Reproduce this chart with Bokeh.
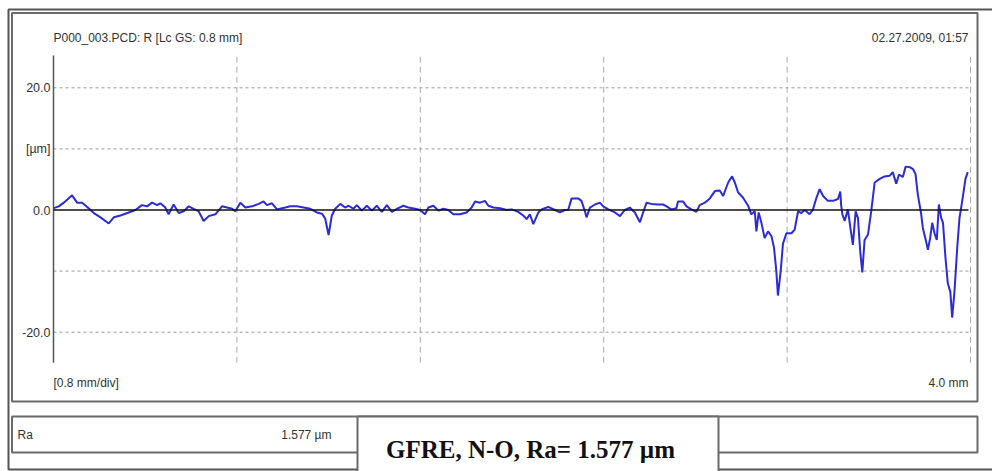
from bokeh.plotting import figure
from bokeh.models import Range1d, Label, ColumnDataSource
from bokeh.embed import file_html
from bokeh.resources import INLINE

# ---- data ----
x_mm = [0.001, 0.023, 0.045, 0.081, 0.103, 0.125, 0.147, 0.176, 0.205, 0.241, 0.263, 0.292,
        0.328, 0.357, 0.386, 0.408, 0.430, 0.452, 0.466, 0.488, 0.502, 0.524, 0.546, 0.568,
        0.590, 0.611, 0.633, 0.655, 0.677, 0.706, 0.735, 0.757, 0.779, 0.793, 0.815, 0.837,
        0.866, 0.895, 0.916, 0.931, 0.953, 0.975, 1.011, 1.033, 1.062, 1.091, 1.120, 1.149,
        1.171, 1.185, 1.200, 1.214, 1.229, 1.251, 1.272, 1.287, 1.308, 1.323, 1.345, 1.367,
        1.389, 1.410, 1.432, 1.454, 1.476, 1.498, 1.526, 1.548, 1.577, 1.599, 1.621, 1.635,
        1.657, 1.679, 1.701, 1.722, 1.744, 1.773, 1.802, 1.824, 1.839, 1.861, 1.882, 1.897,
        1.919, 1.948, 1.977, 1.999, 2.027, 2.049, 2.064, 2.078, 2.093, 2.115, 2.129, 2.158,
        2.187, 2.209, 2.231, 2.245, 2.260, 2.289, 2.303, 2.318, 2.325, 2.340, 2.362, 2.383,
        2.398, 2.420, 2.449, 2.471, 2.492, 2.514, 2.536, 2.558, 2.572, 2.587, 2.608, 2.637,
        2.659, 2.674, 2.695, 2.717, 2.724, 2.746, 2.761, 2.783, 2.804, 2.819, 2.841, 2.863,
        2.885, 2.906, 2.921, 2.943, 2.960, 2.972, 2.986, 3.008, 3.030, 3.044, 3.059, 3.066,
        3.076, 3.088, 3.102, 3.117, 3.132, 3.143, 3.153, 3.160, 3.172, 3.182, 3.197, 3.219,
        3.233, 3.248, 3.262, 3.277, 3.298, 3.313, 3.328, 3.342, 3.357, 3.378, 3.400, 3.422,
        3.432, 3.436, 3.441, 3.451, 3.465, 3.476, 3.487, 3.499, 3.509, 3.519, 3.528, 3.538,
        3.553, 3.567, 3.582, 3.604, 3.625, 3.647, 3.661, 3.676, 3.688, 3.705, 3.717, 3.735,
        3.749, 3.760, 3.770, 3.785, 3.792, 3.806, 3.814, 3.824, 3.833, 3.843, 3.853, 3.862,
        3.872, 3.880, 3.891, 3.901, 3.912, 3.920, 3.930, 3.942, 3.952, 3.964, 3.978, 3.988]
z_um = [0.3, 0.6, 1.2, 2.4, 1.2, 1.2, 0.5, -0.5, -1.2, -2.2, -1.2, -0.9,
        -0.4, 0.0, 0.8, 0.6, 1.2, 0.8, 1.1, 0.4, -0.7, 0.9, -0.5, -0.2,
        0.6, 0.2, -0.2, -1.8, -1.0, -0.7, 0.6, 0.4, 0.2, -0.2, 1.2, 0.4,
        0.6, 1.0, 1.4, 0.8, 1.1, 0.1, 0.4, 0.6, 0.6, 0.4, 0.2, -0.4,
        -0.6, -1.4, -4.1, -0.9, 0.2, 1.0, 0.4, 0.7, 0.2, 0.8, -0.1, 0.7,
        -0.1, 0.7, -0.3, 0.8, -0.3, 0.2, 0.7, 0.4, 0.2, 0.0, -0.7, 0.4,
        0.7, -0.1, 0.2, 0.0, -0.7, -0.7, -0.4, 0.4, 1.4, 1.2, 1.5, 0.7,
        0.4, 0.3, 0.0, 0.1, -0.3, -0.9, -1.5, -0.7, -2.3, -0.4, 0.1, 0.5,
        0.0, -0.4, 0.0, 0.0, 1.9, 1.9, 1.5, -0.2, -1.2, 0.4, 0.9, 1.2,
        0.6, 0.1, -0.4, -1.0, 0.0, 0.4, -0.4, -2.0, -0.4, 1.2, 1.0, 0.9,
        0.9, 0.6, 0.1, 0.3, 1.4, 1.4, 0.6, 0.1, -0.3, 0.8, 1.2, 1.9,
        3.1, 3.2, 2.3, 4.5, 5.5, 4.5, 2.9, 2.0, 0.7, -0.7, -0.2, -3.5,
        -0.4, -2.1, -4.6, -3.5, -4.3, -6.2, -10.0, -14.0, -10.0, -5.5, -3.8, -3.8,
        -3.2, -0.2, -0.5, 0.0, -0.7, 0.1, 2.0, 3.4, 2.3, 1.5, 1.5, 1.8,
        3.0, 0.7, -0.7, -1.8, 0.1, -2.9, -5.7, -0.2, -1.3, -6.8, -10.2, -4.9,
        -4.0, -0.2, 4.5, 5.1, 5.5, 5.6, 6.2, 4.3, 5.8, 5.4, 7.1, 7.0,
        6.7, 5.9, 2.6, -0.7, -2.9, -5.1, -6.5, -4.6, -2.1, -3.8, -4.9, 0.9,
        -1.3, -2.1, -7.9, -12.0, -13.4, -17.6, -13.4, -6.2, -1.3, 1.5, 5.1, 6.2]

y_ticks = [20, 10, 0, -20]
y_tick_labels = ["20.0", "[\u00b5m]", "0.0", "-20.0"]
x_grid = [0.8, 1.6, 2.4, 3.2, 4.0]
y_grid = [-20, -10, 10, 20]

title_left = "P000_003.PCD: R [Lc GS: 0.8 mm]"
title_right = "02.27.2009, 01:57"
x_scale_text = "[0.8 mm/div]"
x_end_text = "4.0 mm"
param_name = "Ra"
param_value = "1.577 \u00b5m"
caption = "GFRE, N-O, Ra= 1.577 \u00b5m"

# ---- plot region (data extent of the profile window) ----
X_LO, X_HI = 0.0, 4.0
Y_LO, Y_HI = -25.0, 25.3

# ---- canvas mapping: the whole page is the frame ----
W, H = 992, 471
PX0, PX_PER_MM = 53.0, 229.25      # pixel of x=0, pixels per mm
PY0, PY_PER_UM = 209.5, 6.11       # pixel of z=0, pixels per um

def dx(px):
    return (px - PX0) / PX_PER_MM

def dy(py):
    return (PY0 - py) / PY_PER_UM

p = figure(width=W, height=H, output_backend="svg", toolbar_location=None,
           x_range=Range1d(dx(0), dx(W)), y_range=Range1d(dy(H), dy(0)),
           x_axis_location=None, y_axis_location=None,
           min_border=0, min_border_left=0, min_border_right=0,
           min_border_top=0, min_border_bottom=0)
p.outline_line_color = None
p.background_fill_color = "white"
p.border_fill_color = "white"
p.grid.visible = False

SANS = "Liberation Sans"
SERIF = "Liberation Serif"
BORDER = "#6a6a6a"

# ---- window / panel frames ----
p.quad(left=[dx(8)], right=[dx(996)], top=[dy(9)], bottom=[dy(469)],
       fill_color=None, line_color="#555555", line_width=2)
p.quad(left=[dx(11.5)], right=[dx(977)], top=[dy(12.5)], bottom=[dy(401)],
       fill_color=None, line_color=BORDER, line_width=2)
p.quad(left=[dx(11.5)], right=[dx(977)], top=[dy(416)], bottom=[dy(452)],
       fill_color=None, line_color=BORDER, line_width=2)
p.quad(left=[dx(357)], right=[dx(718)], top=[dy(416)], bottom=[dy(478)],
       fill_color="white", line_color=BORDER, line_width=2)

# ---- grid ----
p.multi_line(xs=[[X_LO, X_HI] for _ in y_grid], ys=[[g, g] for g in y_grid],
             line_color="#9a9a9a", line_width=1, line_dash="3 3")
p.multi_line(xs=[[g, g] for g in x_grid], ys=[[Y_LO, Y_HI] for _ in x_grid],
             line_color="#ababab", line_width=1, line_dash="6 4")

# ---- y axis line + tick labels ----
p.segment(x0=[X_LO], y0=[Y_LO], x1=[X_LO], y1=[Y_HI], line_color="#555555", line_width=1.5)
p.text(x=[X_LO] * len(y_ticks), y=y_ticks, text=y_tick_labels, x_offset=-3,
       text_align="right", text_baseline="middle", text_font_size="12.5px",
       text_font={"value": SANS}, text_color="#333333")

# ---- profile ----
src = ColumnDataSource(dict(x=x_mm, z=z_um))
p.line("x", "z", source=src, line_color="#2b2bd8", line_width=2)
p.segment(x0=[X_LO], y0=[0], x1=[dx(968)], y1=[0], line_color="#111111", line_width=1.5)

def lab(px, py, text, align, size, font=SANS, style="normal", color="#333333"):
    p.add_layout(Label(x=dx(px), y=dy(py), text=text, text_align=align,
                       text_baseline="middle", text_font=font,
                       text_font_size=size, text_font_style=style, text_color=color))

lab(53, 37, title_left, "left", "12px")
lab(968, 37, title_right, "right", "12px")
lab(53, 382, x_scale_text, "left", "12px")
lab(968, 382, x_end_text, "right", "12px")
lab(17, 434, param_name, "left", "12px")
lab(331, 434, param_value, "right", "12px")
lab(530, 449, caption, "center", "25px", font=SERIF, style="bold", color="#111111")

open("out.html", "w").write(file_html(p, INLINE))
